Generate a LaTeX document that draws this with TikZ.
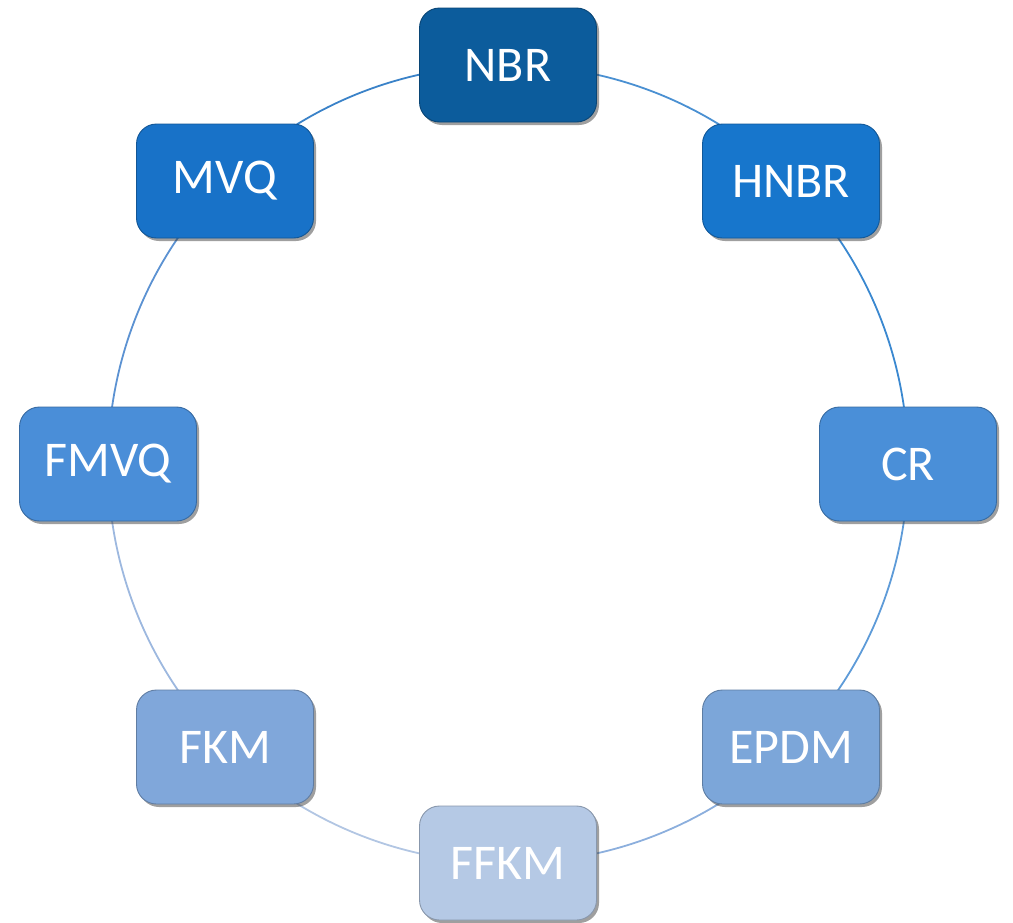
\documentclass[tikz,border=0pt]{standalone}
\usepackage{fontspec}
\setmainfont{Carlito}
\usetikzlibrary{shadows,backgrounds}
\definecolor{cNBR}{HTML}{0C5C9C}
\definecolor{cHNBR}{HTML}{1776CC}
\definecolor{cMVQ}{HTML}{1872C8}
\definecolor{cCR}{HTML}{4A8FD8}
\definecolor{cFMVQ}{HTML}{4A8ED8}
\definecolor{cEPDM}{HTML}{7CA6D9}
\definecolor{cFKM}{HTML}{80A7DA}
\definecolor{cFFKM}{HTML}{B5C9E5}
\definecolor{rA}{HTML}{4A90D2}
\definecolor{rB}{HTML}{3A88D0}
\definecolor{rC}{HTML}{5E9BD8}
\definecolor{rD}{HTML}{8CAFDD}
\definecolor{rE}{HTML}{B2C6E3}
\definecolor{rF}{HTML}{9DB8DF}
\definecolor{rG}{HTML}{5C92D2}
\definecolor{rH}{HTML}{3A82C8}
\tikzset{
  elastomer/.style={rectangle, rounded corners=20pt, minimum width=177pt, minimum height=114pt,
    fill=#1, draw=#1!75!black, line width=0.9pt, text=white,
    font=\fontsize{50}{54}\selectfont,
    drop shadow={shadow xshift=2.5pt, shadow yshift=-3pt, opacity=0.5, fill=black!75}},
  ring/.style={line width=1.8pt, draw=#1}
}
\begin{document}
\begin{tikzpicture}[x=1pt,y=-1pt]
\useasboundingbox (0,0) rectangle (1013,922);
\node[elastomer=cNBR]  (nbr)  at (508,65)  {NBR};
\node[elastomer=cHNBR] (hnbr) at (791,181) {HNBR};
\node[elastomer=cCR]   (cr)   at (908,464) {CR};
\node[elastomer=cEPDM] (epdm) at (791,747) {EPDM};
\node[elastomer=cFFKM] (ffkm) at (508,863) {FFKM};
\node[elastomer=cFKM]  (fkm)  at (225,747) {FKM};
\node[elastomer=cFMVQ] (fmvq) at (108,464) {FMVQ};
\node[elastomer=cMVQ]  (mvq)  at (225,181) {MVQ};
% ring segments between neighbouring boxes
\begin{scope}[on background layer, bend left=22.5, looseness=0.885]
\draw[ring=rA] (nbr.center)  to (hnbr.center);
\draw[ring=rB] (hnbr.center) to (cr.center);
\draw[ring=rC] (cr.center)   to (epdm.center);
\draw[ring=rD] (epdm.center) to (ffkm.center);
\draw[ring=rE] (ffkm.center) to (fkm.center);
\draw[ring=rF] (fkm.center)  to (fmvq.center);
\draw[ring=rG] (fmvq.center) to (mvq.center);
\draw[ring=rH] (mvq.center)  to (nbr.center);
\end{scope}
\end{tikzpicture}
\end{document}
